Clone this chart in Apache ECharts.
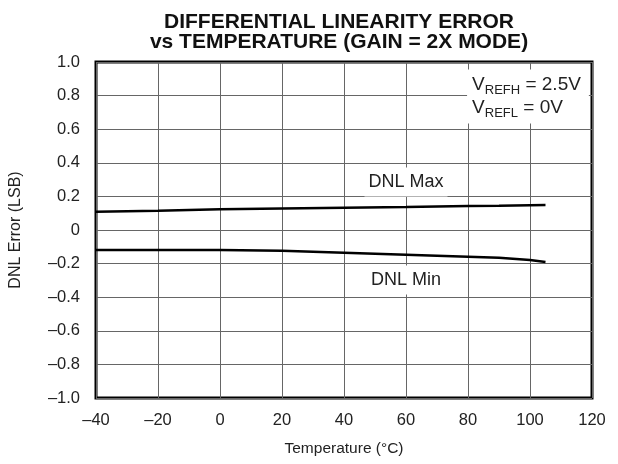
<!DOCTYPE html>
<html><head><meta charset="utf-8">
<script src="https://cdn.jsdelivr.net/npm/echarts@6/dist/echarts.min.js"></script>
<style>html,body{margin:0;padding:0;background:#fff}#c{width:618px;height:464px}</style>
</head><body><div id="c"></div>
<script>
const temps = [-40, -20, 0, 20, 40, 60, 80, 90, 100, 105];
const dnlMax = [0.109, 0.115, 0.123, 0.128, 0.133, 0.137, 0.143, 0.145, 0.148, 0.149];
const dnlMin = [-0.119, -0.119, -0.119, -0.123, -0.135, -0.147, -0.159, -0.165, -0.179, -0.190];
const titleLines = ['DIFFERENTIAL LINEARITY ERROR', 'vs TEMPERATURE (GAIN = 2X MODE)'];
const xName = 'Temperature (°C)';
const yName = 'DNL Error (LSB)';

function fmt(v, d) {
  if (Math.abs(v) < 1e-9) return '0';
  const s = Math.abs(v).toFixed(d);
  return v < 0 ? '\u2013' + s : s;
}
const font = 'Liberation Sans, Arial, sans-serif';
const txt = '#222';
const chart = echarts.init(document.getElementById('c'));
chart.setOption({
  animation: false,
  backgroundColor: '#fff',
  title: {
    text: titleLines.join('\n'),
    left: 334, top: 7, textAlign: 'center',
    textStyle: { fontFamily: font, fontSize: 21, fontWeight: 'bold', color: '#111', lineHeight: 20 }
  },
  grid: { left: 96, right: 26, top: 62, bottom: 66, show: true, borderColor: '#000', borderWidth: 3, backgroundColor: 'transparent' },
  xAxis: {
    type: 'value', min: -40, max: 120, interval: 20,
    name: xName, nameLocation: 'middle', nameGap: 43,
    nameTextStyle: { fontFamily: font, fontSize: 15.5, color: txt },
    axisLine: { show: false }, axisTick: { show: false },
    axisLabel: { fontFamily: font, fontSize: 16.5, color: txt, margin: 14, formatter: v => fmt(v, 0) },
    splitLine: { lineStyle: { color: '#666', width: 1 } }
  },
  yAxis: {
    type: 'value', min: -1, max: 1, interval: 0.2,
    name: yName, nameLocation: 'middle', nameGap: 72,
    nameTextStyle: { fontFamily: font, fontSize: 16, color: txt },
    axisLine: { show: false }, axisTick: { show: false },
    axisLabel: { fontFamily: font, fontSize: 16.5, color: txt, margin: 16, formatter: v => fmt(v, 1) },
    splitLine: { lineStyle: { color: '#666', width: 1 } }
  },
  series: [
    {
      type: 'line', name: 'DNL Max', data: temps.map((t, i) => [t, dnlMax[i]]),
      symbol: 'none', lineStyle: { color: '#000', width: 2.5 }, z: 5,
      markPoint: {
        symbol: 'rect', symbolSize: 1, itemStyle: { color: 'transparent' },
        data: [
          { coord: [60, 0.286], label: { show: true, formatter: 'DNL Max', position: 'inside', fontFamily: font, fontSize: 18, color: txt, backgroundColor: '#fff', padding: [6, 4, 5, 4] } },
          { coord: [79.7, 0.795], label: { show: true, position: 'inside', align: 'left',
              formatter: '{v|V}{s|REFH}{v| = 2.5V}\n{v|V}{s|REFL}{v| = 0V}',
              backgroundColor: '#fff', padding: [4, 8, 4, 5],
              rich: {
                v: { fontFamily: font, fontSize: 19, color: txt, lineHeight: 23, verticalAlign: 'middle' },
                s: { fontFamily: font, fontSize: 13, color: txt, lineHeight: 23, padding: [11, 0, 0, 0], verticalAlign: 'middle' }
              } } }
        ]
      }
    },
    {
      type: 'line', name: 'DNL Min', data: temps.map((t, i) => [t, dnlMin[i]]),
      symbol: 'none', lineStyle: { color: '#000', width: 2.5 }, z: 5,
      markPoint: {
        symbol: 'rect', symbolSize: 1, itemStyle: { color: 'transparent' },
        data: [
          { coord: [60, -0.298], label: { show: true, formatter: 'DNL Min', position: 'inside', fontFamily: font, fontSize: 18, color: txt, backgroundColor: '#fff', padding: [6, 4, 5, 4] } }
        ]
      }
    }
  ]
});
</script></body></html>
